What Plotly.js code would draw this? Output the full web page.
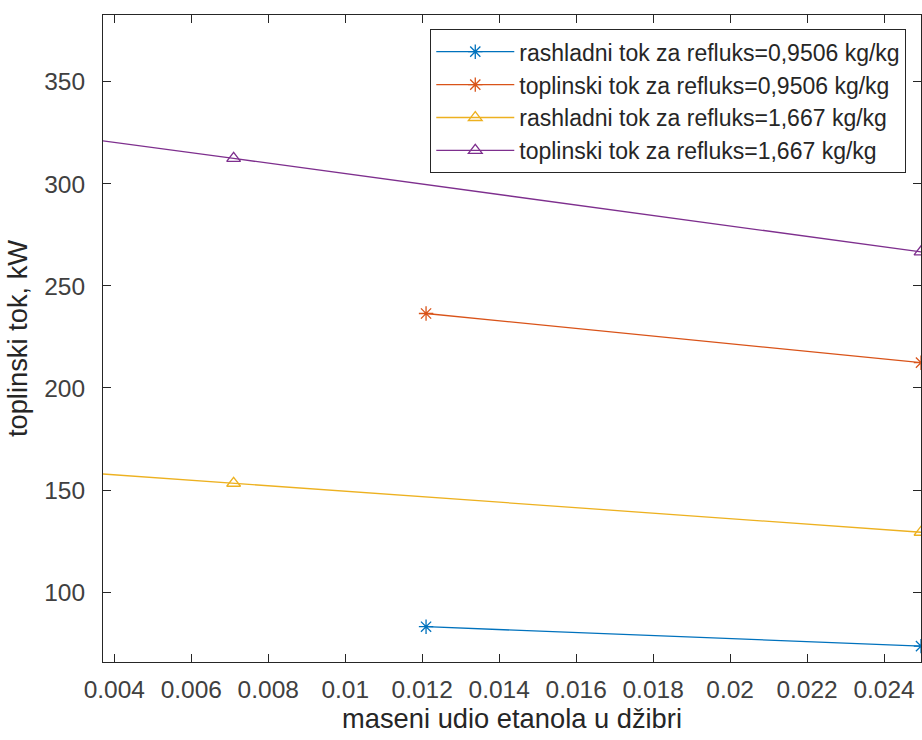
<!DOCTYPE html>
<html>
<head>
<meta charset="utf-8">
<script src="https://cdn.plot.ly/plotly-3.0.1.min.js"></script>
<style>html,body{margin:0;padding:0;background:#fff;}#chart{width:922px;height:740px;}</style>
</head>
<body>
<div id="chart"></div>
<script>
// x: maseni udio etanola u džibri
const xR095 = [0.0121, 0.02496];
const rashladni095 = [83.0, 73.5];
const toplinski095 = [236.5, 212.4];

const xR1667 = [0.0030, 0.0071, 0.02496];
const rashladni1667 = [158.8, 153.3, 129.3];
const toplinski1667 = [322.9, 312.5, 266.7];

const names = [
  'rashladni tok za refluks=0,9506 kg/kg',
  'toplinski tok za refluks=0,9506 kg/kg',
  'rashladni tok za refluks=1,667 kg/kg',
  'toplinski tok za refluks=1,667 kg/kg'
];
const colors = ['#0072BD', '#D95319', '#EDB120', '#7E2F8E'];
const xTicks = [0.004, 0.006, 0.008, 0.01, 0.012, 0.014, 0.016, 0.018, 0.02, 0.022, 0.024];
const xTickText = ['0.004','0.006','0.008','0.01','0.012','0.014','0.016','0.018','0.02','0.022','0.024'];
const yTicks = [100, 150, 200, 250, 300, 350];

function tr(x, y, i, sym) {
  return {
    x: x, y: y, name: names[i], type: 'scatter', mode: 'lines+markers',
    cliponaxis: true,
    line: {color: colors[i], width: 1.3},
    marker: {symbol: sym, size: 12, color: colors[i], line: {color: colors[i], width: 1.3}}
  };
}

const data = [
  tr(xR095, rashladni095, 0, 'asterisk-open'),
  tr(xR095, toplinski095, 1, 'asterisk-open'),
  tr(xR1667, rashladni1667, 2, 'triangle-up-open'),
  tr(xR1667, toplinski1667, 3, 'triangle-up-open')
];

const axCol = '#262626';
const layout = {
  width: 922, height: 740,
  margin: {l: 103, r: 1, t: 15, b: 78},
  paper_bgcolor: '#fff', plot_bgcolor: '#fff',
  font: {family: 'Liberation Sans, Arial, sans-serif', color: axCol},
  xaxis: {
    range: [0.003706, 0.02496],
    tickvals: xTicks, ticktext: xTickText,
    ticks: 'inside', ticklen: 8, tickcolor: axCol, tickwidth: 1,
    showline: true, linecolor: axCol, linewidth: 1, mirror: 'ticks',
    showgrid: false, zeroline: false,
    tickfont: {size: 24.5, color: '#404040'},
    ticklabelstandoff: 6,
    title: {text: 'maseni udio etanola u džibri', font: {size: 27.3, color: '#262626'}, standoff: 4}
  },
  yaxis: {
    range: [65.7, 382.8],
    tickvals: yTicks,
    ticks: 'inside', ticklen: 8, tickcolor: axCol, tickwidth: 1,
    showline: true, linecolor: axCol, linewidth: 1, mirror: 'ticks',
    showgrid: false, zeroline: false,
    tickfont: {size: 24.5, color: '#404040'},
    ticklabelstandoff: 12,
    title: {text: 'toplinski tok, kW', font: {size: 27.3, color: '#262626'}, standoff: 8}
  },
  showlegend: true,
  legend: {
    x: 0.982, xanchor: 'right', y: 0.978, yanchor: 'top',
    bgcolor: '#fff', bordercolor: axCol, borderwidth: 1,
    font: {size: 23, color: '#262626'},
    itemwidth: 78
  }
};

Plotly.newPlot('chart', data, layout, {displayModeBar: false, staticPlot: true});
</script>
</body>
</html>
